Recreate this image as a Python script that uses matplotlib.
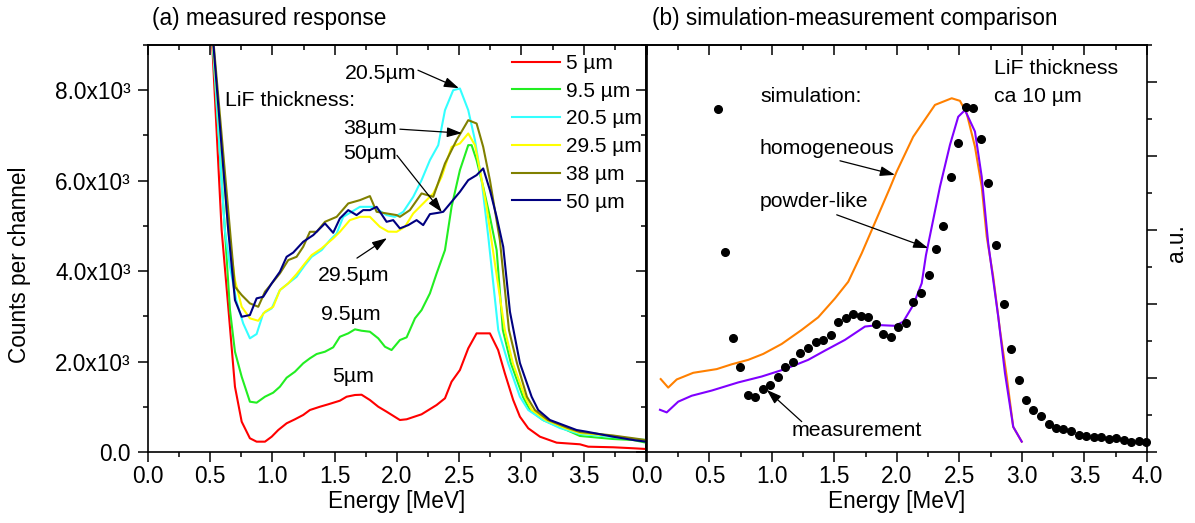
import matplotlib
matplotlib.use('Agg')
import matplotlib.pyplot as plt
import numpy as np
from matplotlib.ticker import MultipleLocator, NullFormatter, FuncFormatter

plt.rcParams['font.family'] = ['Liberation Sans', 'DejaVu Sans']
plt.rcParams['font.size'] = 16.3
plt.rcParams['axes.linewidth'] = 1.2

# (a) measured response: (energy MeV, counts per channel)
lif_5um = [(0.50, 9900), (0.592, 4906), (0.645, 3211), (0.699, 1443), (0.753, 670),
           (0.819, 303), (0.873, 228), (0.940, 228), (0.994, 338), (1.047, 486),
           (1.114, 634), (1.181, 723), (1.247, 818), (1.301, 928), (1.382, 1001),
           (1.448, 1054), (1.542, 1134), (1.596, 1222), (1.663, 1260), (1.716, 1266),
           (1.783, 1149), (1.850, 1001), (1.917, 891), (2.024, 707), (2.078, 723),
           (2.198, 833), (2.319, 1039), (2.386, 1187), (2.439, 1554), (2.506, 1812),
           (2.573, 2292), (2.640, 2623), (2.747, 2623), (2.813, 2254), (2.867, 1739),
           (2.934, 1149), (2.988, 780), (3.055, 524), (3.149, 338), (3.283, 206),
           (3.470, 170), (3.537, 117), (3.737, 104), (3.898, 82), (4.0, 66)]

lif_9um = [(0.50, 9900), (0.618, 4906), (0.659, 3138), (0.699, 2217), (0.753, 1664),
           (0.819, 1112), (0.873, 1090), (0.940, 1222), (1.006, 1311), (1.060, 1443),
           (1.114, 1642), (1.181, 1775), (1.247, 1960), (1.301, 2071), (1.355, 2166),
           (1.422, 2217), (1.488, 2314), (1.542, 2548), (1.609, 2623), (1.663, 2712),
           (1.716, 2681), (1.783, 2659), (1.850, 2513), (1.904, 2327), (1.957, 2254),
           (2.024, 2475), (2.078, 2535), (2.145, 2955), (2.198, 3138), (2.265, 3507),
           (2.319, 3949), (2.386, 4464), (2.439, 5421), (2.506, 6232), (2.573, 6785),
           (2.600, 6785), (2.640, 6453), (2.693, 5863), (2.747, 5200), (2.801, 4464),
           (2.851, 2696), (2.915, 1967), (3.012, 1222), (3.068, 928), (3.173, 707),
           (3.363, 486), (3.470, 354), (3.735, 287), (3.896, 265), (4.0, 206)]

lif_20um = [(0.50, 9900), (0.618, 4906), (0.659, 4095), (0.712, 3322), (0.765, 2844),
            (0.819, 2513), (0.873, 2608), (0.926, 3065), (0.994, 3176), (1.060, 3580),
            (1.127, 3728), (1.194, 3874), (1.261, 4133), (1.315, 4316), (1.395, 4464),
            (1.462, 4685), (1.516, 4833), (1.569, 5200), (1.703, 5421), (1.810, 5421),
            (1.917, 5238), (1.984, 5200), (2.051, 5311), (2.131, 5642), (2.198, 6011),
            (2.265, 6453), (2.332, 6785), (2.386, 7558), (2.452, 8000), (2.506, 8038),
            (2.573, 7558), (2.627, 6895), (2.680, 6011), (2.734, 4758), (2.814, 2696),
            (2.894, 1960), (2.988, 1222), (3.055, 928), (3.173, 707), (3.309, 530),
            (3.470, 398), (3.735, 331), (4.0, 265)]

lif_29um = [(0.50, 9800), (0.645, 4906), (0.699, 3801), (0.753, 3211), (0.819, 2955),
            (0.886, 2902), (0.940, 3101), (1.006, 3211), (1.060, 3580), (1.127, 3728),
            (1.194, 3934), (1.261, 4170), (1.315, 4354), (1.395, 4502), (1.488, 4723),
            (1.542, 4869), (1.622, 5127), (1.703, 5200), (1.783, 5200), (1.863, 4979),
            (1.930, 4873), (1.998, 4869), (2.064, 4979), (2.131, 5275), (2.211, 5496),
            (2.292, 5717), (2.359, 6084), (2.439, 6747), (2.506, 6822), (2.573, 7043),
            (2.627, 6785), (2.667, 6232), (2.720, 5421), (2.795, 4022), (2.867, 2696),
            (2.932, 1960), (3.028, 1222), (3.084, 928), (3.197, 707), (3.349, 530),
            (3.470, 420), (3.735, 354), (4.0, 243)]

lif_38um = [(0.50, 9900), (0.659, 4906), (0.699, 3653), (0.753, 3470), (0.819, 3286),
            (0.886, 3211), (0.940, 3543), (1.006, 3764), (1.060, 3949), (1.127, 4243),
            (1.194, 4316), (1.247, 4537), (1.301, 4869), (1.355, 4869), (1.422, 5090),
            (1.516, 5200), (1.609, 5496), (1.703, 5569), (1.783, 5658), (1.837, 5311),
            (1.917, 5275), (1.998, 5238), (2.024, 5200), (2.104, 5348), (2.198, 5717),
            (2.292, 5642), (2.386, 6380), (2.479, 6895), (2.573, 7337), (2.640, 7264),
            (2.693, 6747), (2.747, 6011), (2.827, 4685), (2.900, 2696), (2.964, 1967),
            (3.044, 1222), (3.108, 928), (3.213, 707), (3.373, 530), (3.470, 442),
            (3.735, 365), (4.0, 265)]

lif_50um = [(0.50, 9900), (0.645, 4906), (0.699, 3359), (0.753, 2990), (0.819, 3028),
            (0.873, 3397), (0.926, 3432), (0.994, 3728), (1.060, 3985), (1.114, 4316),
            (1.167, 4409), (1.247, 4648), (1.328, 4796), (1.422, 5054), (1.488, 4847),
            (1.542, 5165), (1.609, 5348), (1.676, 5238), (1.729, 5348), (1.783, 5348),
            (1.837, 5421), (1.917, 5090), (1.970, 5127), (2.024, 4944), (2.091, 5017),
            (2.158, 5127), (2.211, 5017), (2.265, 5260), (2.332, 5289), (2.372, 5311),
            (2.439, 5532), (2.506, 5753), (2.573, 6011), (2.640, 6122), (2.693, 6270),
            (2.747, 5790), (2.801, 5200), (2.854, 4537), (2.908, 3100), (2.988, 1967),
            (3.082, 1222), (3.135, 928), (3.229, 707), (3.443, 486), (3.523, 449),
            (3.737, 338), (3.898, 265), (4.0, 228)]

series = [lif_5um, lif_9um, lif_20um, lif_29um, lif_38um, lif_50um]
labels = ['5 \u00b5m', '9.5 \u00b5m', '20.5 \u00b5m', '29.5 \u00b5m', '38 \u00b5m', '50 \u00b5m']
colors = ['#ff0000', '#22ee22', '#33ffff', '#ffff00', '#808000', '#000080']

# (b) comparison: (energy MeV, a.u.)
measurement = [(0.566, 0.927), (0.624, 0.541), (0.686, 0.309), (0.746, 0.229), (0.808, 0.154),
               (0.866, 0.149), (0.926, 0.169), (0.986, 0.181), (1.048, 0.202), (1.106, 0.229),
               (1.168, 0.242), (1.226, 0.267), (1.288, 0.282), (1.350, 0.297), (1.410, 0.302),
               (1.470, 0.315), (1.528, 0.351), (1.590, 0.361), (1.648, 0.374), (1.710, 0.367),
               (1.768, 0.365), (1.830, 0.345), (1.888, 0.319), (1.950, 0.311), (2.010, 0.338),
               (2.070, 0.348), (2.130, 0.405), (2.192, 0.431), (2.254, 0.478), (2.312, 0.549),
               (2.370, 0.612), (2.430, 0.743), (2.490, 0.836), (2.552, 0.933), (2.610, 0.930),
               (2.670, 0.845), (2.730, 0.727), (2.792, 0.559), (2.854, 0.401), (2.912, 0.278),
               (2.974, 0.194), (3.032, 0.140), (3.090, 0.114), (3.152, 0.096), (3.214, 0.075),
               (3.272, 0.065), (3.330, 0.061), (3.392, 0.058), (3.454, 0.047), (3.512, 0.043),
               (3.574, 0.040), (3.632, 0.041), (3.694, 0.034), (3.754, 0.037), (3.814, 0.032),
               (3.872, 0.028), (3.934, 0.029), (3.992, 0.028)]

homogeneous = [(0.110, 0.197), (0.170, 0.174), (0.238, 0.196), (0.370, 0.214), (0.558, 0.224),
               (0.678, 0.237), (0.810, 0.249), (0.930, 0.265), (1.078, 0.292), (1.238, 0.330),
               (1.370, 0.364), (1.504, 0.415), (1.610, 0.460), (1.718, 0.537), (1.810, 0.609),
               (1.944, 0.714), (1.998, 0.758), (2.130, 0.852), (2.304, 0.938), (2.438, 0.956),
               (2.504, 0.949), (2.558, 0.915), (2.624, 0.825), (2.678, 0.717), (2.718, 0.582),
               (2.770, 0.474), (2.824, 0.330), (2.878, 0.204), (2.930, 0.068), (2.998, 0.028)]

powder_like = [(0.104, 0.114), (0.158, 0.107), (0.250, 0.136), (0.358, 0.152), (0.518, 0.166),
               (0.730, 0.188), (0.918, 0.204), (1.104, 0.224), (1.290, 0.249), (1.424, 0.274),
               (1.584, 0.303), (1.744, 0.339), (1.850, 0.343), (1.984, 0.341), (2.050, 0.352),
               (2.130, 0.397), (2.198, 0.456), (2.232, 0.532), (2.344, 0.717), (2.424, 0.830),
               (2.490, 0.906), (2.544, 0.924), (2.624, 0.866), (2.678, 0.744), (2.730, 0.564),
               (2.810, 0.366), (2.864, 0.213), (2.930, 0.068), (2.998, 0.028)]

arrow = dict(arrowstyle='-|>,head_length=0.9,head_width=0.3', color='k', lw=0.9,
             mutation_scale=10, shrinkA=0, shrinkB=0)
note = 15.3


def inner_ticks(ax, side, major, minor):
    if side == 'top':
        sec = ax.secondary_xaxis('top')
        axis = sec.xaxis
    else:
        sec = ax.secondary_yaxis('right')
        axis = sec.yaxis
    axis.set_major_locator(MultipleLocator(major))
    axis.set_minor_locator(MultipleLocator(minor))
    axis.set_major_formatter(NullFormatter())
    sec.tick_params(which='both', direction='in', width=1.1)
    sec.tick_params(which='major', length=7.2)
    sec.tick_params(which='minor', length=3.6)
    for s in sec.spines.values():
        s.set_linewidth(1.2)
    return sec


fig = plt.figure(figsize=(11.95, 5.23), dpi=100)
ax1 = fig.add_axes([0.1238, 0.1358, 0.4167, 0.7782])
ax2 = fig.add_axes([0.5414, 0.1358, 0.4184, 0.7782])

# ---- panel (a)
for data, lab, col in zip(series, labels, colors):
    e, c = np.array(data).T
    ax1.plot(e, c, color=col, lw=1.5, label=lab)

ax1.set_xlim(0, 4)
ax1.set_ylim(0, 9000)
ax1.xaxis.set_major_locator(MultipleLocator(0.5))
ax1.xaxis.set_minor_locator(MultipleLocator(0.25))
ax1.yaxis.set_major_locator(MultipleLocator(2000))
ax1.yaxis.set_minor_locator(MultipleLocator(1000))
ax1.xaxis.set_major_formatter(FuncFormatter(lambda v, p: '%.1f' % v if v < 3.9 else ''))
ax1.yaxis.set_major_formatter(FuncFormatter(
    lambda v, p: '0.0' if v == 0 else '%.1fx10\u00b3' % (v / 1000)))
ax1.tick_params(which='both', direction='out', width=1.1, top=False, right=False)
ax1.tick_params(which='major', length=7.2)
ax1.tick_params(which='minor', length=3.6)
ax1.tick_params(axis='x', pad=2.5)
ax1.tick_params(axis='y', pad=5)
inner_ticks(ax1, 'top', 0.5, 0.25)
inner_ticks(ax1, 'right', 2000, 1000)
ax1.set_xlabel('Energy [MeV]', labelpad=1)
ax1.text(-0.257, 0.46, 'Counts per channel', rotation=90, ha='center', va='center',
         transform=ax1.transAxes)
ax1.text(0.008, 1.066, '(a) measured response', ha='left', va='center',
         transform=ax1.transAxes)

ax1.legend(loc='upper left', bbox_to_anchor=(0.731, 0.978), frameon=False, fontsize=15,
           handlelength=2.3, handletextpad=0.3, labelspacing=0.42, borderpad=0,
           borderaxespad=0)

ax1.text(0.618, 7780, 'LiF thickness:', fontsize=note, ha='left', va='center')
ax1.text(2.153, 8376, '20.5\u00b5m', fontsize=note, ha='right', va='center')
ax1.annotate('', xy=(2.498, 8044), xytext=(2.169, 8442), arrowprops=arrow)
ax1.text(2.0, 7160, '38\u00b5m', fontsize=note, ha='right', va='center')
ax1.annotate('', xy=(2.522, 7050), xytext=(2.024, 7138), arrowprops=arrow)
ax1.text(2.0, 6590, '50\u00b5m', fontsize=note, ha='right', va='center')
ax1.annotate('', xy=(2.361, 5304), xytext=(2.0, 6560), arrowprops=arrow)
ax1.text(1.655, 3912, '29.5\u00b5m', fontsize=note, ha='center', va='center')
ax1.annotate('', xy=(1.920, 4729), xytext=(1.679, 4287), arrowprops=arrow)
ax1.text(1.629, 3043, '9.5\u00b5m', fontsize=note, ha='center', va='center')
ax1.text(1.647, 1664, '5\u00b5m', fontsize=note, ha='center', va='center')

# ---- panel (b)
e, v = np.array(homogeneous).T
ax2.plot(e, v, color='#ff8000', lw=1.5)
e, v = np.array(powder_like).T
ax2.plot(e, v, color='#8000ff', lw=1.5)
e, v = np.array(measurement).T
ax2.plot(e, v, 'o', color='k', ms=5.5, clip_on=False)

ax2.set_xlim(0, 4)
ax2.set_ylim(0, 1.1)
ax2.xaxis.set_major_locator(MultipleLocator(0.5))
ax2.xaxis.set_minor_locator(MultipleLocator(0.25))
ax2.xaxis.set_major_formatter(FuncFormatter(lambda v, p: '%.1f' % v))
ax2.yaxis.tick_right()
ax2.yaxis.set_major_locator(MultipleLocator(0.2))
ax2.yaxis.set_minor_locator(MultipleLocator(0.1))
ax2.yaxis.set_major_formatter(NullFormatter())
ax2.tick_params(which='both', direction='out', width=1.1, top=False, left=False)
ax2.tick_params(which='major', length=7.2)
ax2.tick_params(which='minor', length=3.6)
ax2.tick_params(axis='x', pad=2.5)
inner_ticks(ax2, 'top', 0.5, 0.25)
ax2.set_xlabel('Energy [MeV]', labelpad=1)
ax2.text(1.06, 0.514, 'a.u.', rotation=90, ha='center', va='center',
         transform=ax2.transAxes)
ax2.text(0.01, 1.066, '(b) simulation-measurement comparison', ha='left', va='center',
         transform=ax2.transAxes)

ax2.text(0.904, 0.960, 'simulation:', fontsize=note, ha='left', va='center')
ax2.text(0.904, 0.821, 'homogeneous', fontsize=note, ha='left', va='center')
ax2.annotate('', xy=(1.984, 0.749), xytext=(1.544, 0.787), arrowprops=arrow)
ax2.text(0.904, 0.676, 'powder-like', fontsize=note, ha='left', va='center')
ax2.annotate('', xy=(2.25, 0.551), xytext=(1.518, 0.641), arrowprops=arrow)
ax2.text(1.158, 0.059, 'measurement', fontsize=note, ha='left', va='center')
ax2.annotate('', xy=(0.958, 0.168), xytext=(1.238, 0.082), arrowprops=arrow)
ax2.text(2.776, 1.037, 'LiF thickness', fontsize=note, ha='left', va='center')
ax2.text(2.776, 0.960, 'ca 10 \u00b5m', fontsize=note, ha='left', va='center')

fig.savefig('out.png', dpi=100)
